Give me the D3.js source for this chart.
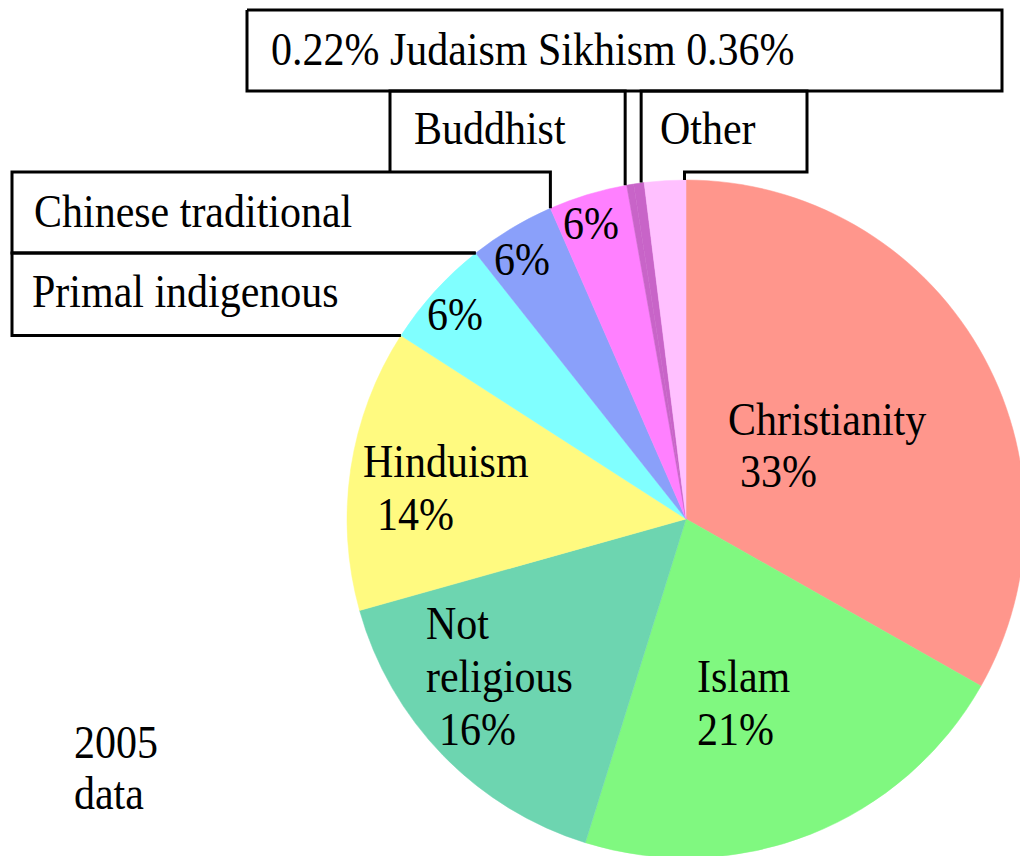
<!DOCTYPE html>
<html>
<head>
<meta charset="utf-8">
<script src="https://cdn.jsdelivr.net/npm/d3@7"></script>
<style>
  body { margin: 0; background: #fff; }
  text { font-family: "Liberation Serif", "Times New Roman", serif; font-size: 42px; fill: #000; }
</style>
</head>
<body>
<div id="chart"></div>
<script>
// slices, clockwise from 12 o'clock (share of the circle, in %)
var categories = ["Christianity", "Islam", "Not religious", "Hinduism", "Primal indigenous",
                  "Chinese traditional", "Buddhist", "Judaism", "Sikhism", "Other"]
var shares = [33.2, 21.6, 15.85, 13.45, 5.25, 4.1, 3.75, 0.33, 0.5, 1.97]
var pctLabels = ["33%", "21%", "16%", "14%", "6%", "6%", "6%", "0.22%", "0.36%", ""]
var colors = ["#ff968c", "#80f880", "#6dd5b0", "#fffa80", "#80ffff",
              "#8aa0fa", "#ff80ff", "#c864c8", "#c864c8", "#ffc0ff"]

var width = 1020, height = 856
var cx = 686, cy = 519, radius = 339

var svg = d3.select("#chart")
  .append("svg")
    .attr("width", width)
    .attr("height", height)

var color = d3.scaleOrdinal()
  .domain(categories)
  .range(colors)

var pie = d3.pie()
  .sort(null)
  .value(function(d) { return d.value })

var data_ready = pie(categories.map(function(c, i) { return {key: c, value: shares[i], label: pctLabels[i]} }))

var arc = d3.arc()
  .innerRadius(0)
  .outerRadius(radius)

var g = svg.append("g")
  .attr("transform", "translate(" + cx + "," + cy + ")")

g.selectAll("slices")
  .data(data_ready)
  .enter()
  .append("path")
    .attr("d", arc)
    .attr("fill", function(d) { return color(d.data.key) })
    .attr("stroke", function(d) { return color(d.data.key) })
    .attr("stroke-width", 0.5)

// point on the rim at the end of a slice (page coords)
function rim(key) {
  var d = data_ready.find(function(e) { return e.data.key == key })
  return [cx + radius * Math.sin(d.endAngle), cy - radius * Math.cos(d.endAngle)]
}

// callout boxes that frame the small slices
var hinduEnd = rim("Hinduism"), primalEnd = rim("Primal indigenous"),
    chineseEnd = rim("Chinese traditional"), buddhEnd = rim("Buddhist"),
    sikhEnd = rim("Sikhism"), otherEnd = rim("Other")

var topBottom = 91, rowY = 172
var boxes = [
  // Primal indigenous
  [hinduEnd, [12, hinduEnd[1]], [12, primalEnd[1]], primalEnd],
  // Chinese traditional
  [primalEnd, [12, primalEnd[1]], [12, rowY], [chineseEnd[0], rowY], chineseEnd],
  // Buddhist
  [[390, rowY], [390, topBottom], [buddhEnd[0] - 1.5, topBottom], [buddhEnd[0] - 1.5, buddhEnd[1]]],
  // Judaism / Sikhism
  [[247, 10], [1002, 10], [1002, topBottom], [247, topBottom], [247, 10]],
  // Other
  [[sikhEnd[0] - 3, sikhEnd[1]], [sikhEnd[0] - 3, topBottom], [807, topBottom], [807, rowY],
   [otherEnd[0] - 1.5, rowY], [otherEnd[0] - 1.5, otherEnd[1]]]
]

svg.selectAll("boxes")
  .data(boxes)
  .enter()
  .append("polyline")
    .attr("points", function(d) { return d.join(" ") })
    .attr("fill", "none")
    .attr("stroke", "#000")
    .attr("stroke-width", 3)
    .attr("stroke-linejoin", "miter")

// text: [string, x, baseline]
var texts = [
  ["0.22% Judaism Sikhism 0.36%", 271, 65],
  ["Buddhist", 414, 144],
  ["Other", 660, 144],
  ["Chinese traditional", 34, 227],
  ["Primal indigenous", 32, 307],
  [pctLabels[6], 563, 239],
  [pctLabels[5], 494, 275],
  [pctLabels[4], 427, 330],
  ["Christianity", 728, 435],
  [pctLabels[0], 740, 487],
  ["Hinduism", 363, 477],
  [pctLabels[3], 377, 530],
  ["Not", 426, 639],
  ["religious", 426, 692],
  [pctLabels[2], 439, 745],
  ["Islam", 697, 692],
  [pctLabels[1], 697, 745],
  ["2005", 74, 758],
  ["data", 74, 809]
]

// the source glyphs are a little taller than Liberation Serif, so stretch vertically
svg.selectAll("labels")
  .data(texts)
  .enter()
  .append("text")
    .attr("transform", function(d) { return "translate(" + d[1] + "," + d[2] + ") scale(1,1.1)" })
    .text(function(d) { return d[0] })
</script>
</body>
</html>
